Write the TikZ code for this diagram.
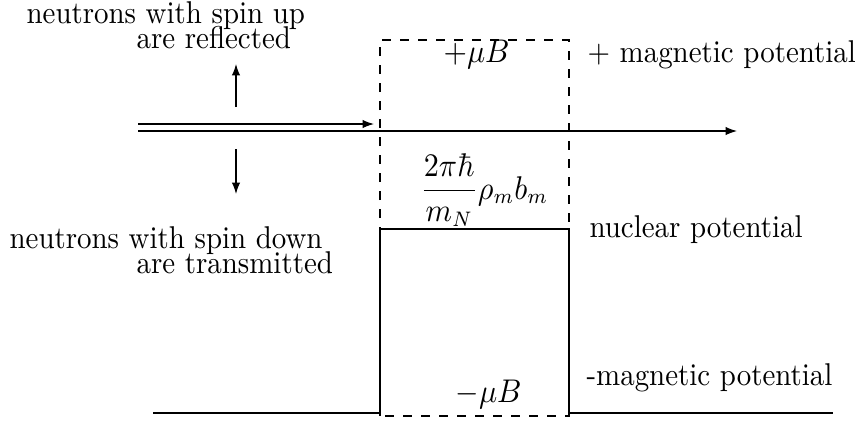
\documentclass[tikz,border=0pt]{standalone}
\usetikzlibrary{arrows.meta}
\newcommand{\squeezetxt}[1]{\scalebox{0.918}[1]{#1}}
\begin{document}
\begin{tikzpicture}[x=0.33333pt,y=-0.33333pt,
  ln/.style={line width=0.4pt},
  dsh/.style={line width=0.4pt,dashed},
  arr/.style={line width=0.4pt,-{Latex[length=3.8pt,width=2.8pt]}},
  lbl/.style={anchor=base west,inner sep=0pt,font=\fontsize{10.5}{12}\selectfont}]
\useasboundingbox (0,0) rectangle (855,421);
% coordinates
\coordinate (tl) at (380,40);
\coordinate (tr) at (569,40);
\coordinate (bl) at (380,416);
\coordinate (br) at (569,416);
\coordinate (nl) at (380,229);
\coordinate (nr) at (569,229);
\coordinate (gl) at (380,413);
\coordinate (gr) at (569,413);
\coordinate (g0) at (153,413);
\coordinate (g1) at (833,413);
\coordinate (a0) at (138,131);
\coordinate (a1) at (737,131);
\coordinate (b0) at (138,124);
\coordinate (b1) at (374,124);
\coordinate (u0) at (236,107);
\coordinate (u1) at (236,64);
\coordinate (d0) at (236,149);
\coordinate (d1) at (236,194);
% dashed magnetic box
\draw[dsh] (bl) -- (tl) -- (tr) -- (br) -- cycle;
% nuclear potential
\draw[ln] (g0) -- (gl) -- (nl) -- (nr) -- (gr) -- (g1);
% axis and arrows
\draw[arr] (a0) -- (a1);
\draw[arr] (b0) -- (b1);
\draw[arr] (u0) -- (u1);
\draw[arr] (d0) -- (d1);
% labels
\node[lbl] (t1) at (26,23) {\squeezetxt{neutrons with spin up}};
\node[lbl] (t2) at (136,48) {\squeezetxt{are reflected}};
\node[lbl] (t3) at (9,248) {\squeezetxt{neutrons with spin down}};
\node[lbl] (t4) at (136,273) {\squeezetxt{are transmitted}};
\node[lbl] (pm) at (443,62) {\squeezetxt{$+\mu B$}};
\node[lbl] (mp) at (587,62) {\squeezetxt{+ magnetic potential}};
\node[lbl] (np) at (589,237) {\squeezetxt{nuclear potential}};
\node[lbl] (nm) at (586,385) {\squeezetxt{-magnetic potential}};
\node[lbl] (mm) at (455,402) {\squeezetxt{$-\mu B$}};
\node[lbl] (fr) at (420,199) {\squeezetxt{$\displaystyle\frac{2\pi\hbar}{m_N}\rho_m b_m$}};
\end{tikzpicture}
\end{document}
